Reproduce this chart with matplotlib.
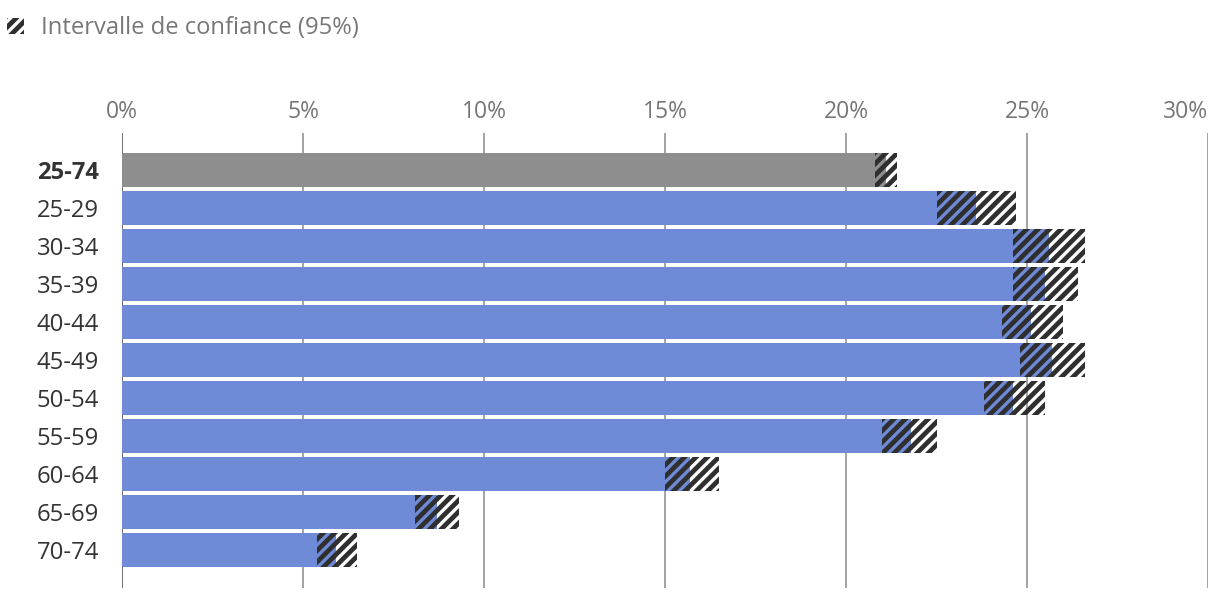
import matplotlib.pyplot as plt
from matplotlib.patches import Patch

plt.rcParams['font.family'] = ['Open Sans', 'DejaVu Sans']
plt.rcParams['hatch.linewidth'] = 2.5

groups = ["25-74", "25-29", "30-34", "35-39", "40-44", "45-49",
          "50-54", "55-59", "60-64", "65-69", "70-74"]
estimate = [21.1, 23.6, 25.6, 25.5, 25.1, 25.7, 24.6, 21.8, 15.7, 8.7, 5.9]
lower = [20.8, 22.5, 24.6, 24.6, 24.3, 24.8, 23.8, 21.0, 15.0, 8.1, 5.4]
upper = [21.4, 24.7, 26.6, 26.4, 26.0, 26.6, 25.5, 22.5, 16.5, 9.3, 6.5]
xticks = [0, 5, 10, 15, 20, 25, 30]
legend_label = "Intervalle de confiance (95%)"

blue = "#6f8ad6"
grey = "#8e8e8e"
hatch_col = "#2f2f2f"

dpi = 137
fig = plt.figure(figsize=(1220 / dpi, 600 / dpi), dpi=dpi)
ax = fig.add_axes([0.1, 0.02, 0.8902, 0.7583])

ypos = list(range(len(groups)))
colors = [grey] + [blue] * (len(groups) - 1)
ax.barh(ypos, estimate, height=0.9, color=colors, zorder=2)
widths = [u - l for u, l in zip(upper, lower)]
ax.barh(ypos, widths, left=lower, height=0.9, fill=False, hatch='////',
        edgecolor=hatch_col, linewidth=0, zorder=3)

ax.set_xlim(0, 30)
ax.set_ylim(len(groups), -0.97)
ax.set_xticks(xticks)
ax.set_xticklabels([f"{v}%" for v in xticks])
ax.xaxis.tick_top()
ax.tick_params(axis='x', length=0, pad=5, labelsize=12, labelcolor='#767676')
ax.xaxis.get_major_ticks()[-1].label2.set_horizontalalignment('right')
ax.set_yticks(ypos)
ylabels = ax.set_yticklabels(groups)
ylabels[0].set_fontweight('bold')
ax.tick_params(axis='y', length=0, pad=12, labelsize=12.5, labelcolor='#333333')

ax.xaxis.grid(True, color='#8a8a8a', linewidth=0.8, zorder=0)
ax.set_axisbelow(True)
ax.axvline(0, color='#6a6a6a', linewidth=0.9, zorder=1)
for s in ax.spines.values():
    s.set_visible(False)

handle = Patch(facecolor='white', edgecolor=hatch_col, hatch='////', linewidth=0)
fig.legend(handles=[handle], labels=[legend_label], loc='upper left',
           bbox_to_anchor=(0.006, 0.973), frameon=False, fontsize=12.5,
           labelcolor='#777777', handlelength=0.7, handleheight=0.7,
           handletextpad=0.7, borderpad=0, borderaxespad=0)

fig.savefig("out.png", dpi=dpi)
